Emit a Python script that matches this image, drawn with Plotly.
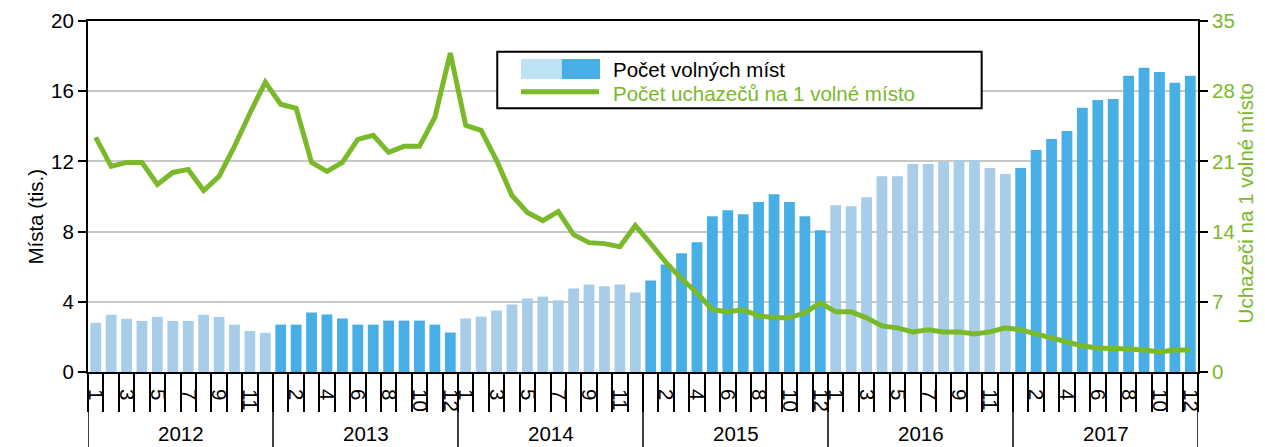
import plotly.graph_objects as go

years = [2012, 2013, 2014, 2015, 2016, 2017]
months = list(range(1, 13))

# Počet volných míst (tis.) by month 2012-01 .. 2017-12
vacancies = [
    2.80, 3.26, 3.03, 2.91, 3.14, 2.91, 2.91, 3.26, 3.14, 2.70, 2.34, 2.23,
    2.70, 2.70, 3.39, 3.28, 3.05, 2.70, 2.70, 2.93, 2.93, 2.93, 2.70, 2.25,
    3.05, 3.16, 3.50, 3.85, 4.19, 4.30, 4.08, 4.76, 4.99, 4.88, 4.99, 4.53,
    5.22, 6.13, 6.76, 7.39, 8.88, 9.22, 8.99, 9.68, 10.13, 9.68, 8.88, 8.08,
    9.50, 9.45, 9.96, 11.16, 11.16, 11.85, 11.85, 11.96, 12.08, 12.08, 11.62, 11.28,
    11.62, 12.65, 13.28, 13.73, 15.05, 15.50, 15.56, 16.88, 17.33, 17.10, 16.48, 16.88,
]

# Počet uchazečů na 1 volné místo
applicants_per_vacancy = [
    23.4, 20.5, 20.9, 20.9, 18.7, 19.9, 20.2, 18.1, 19.5, 22.5, 25.8, 28.9,
    26.7, 26.3, 20.9, 20.0, 20.9, 23.2, 23.6, 21.9, 22.5, 22.5, 25.4, 31.8,
    24.6, 24.1, 21.1, 17.6, 15.9, 15.1, 16.0, 13.7, 12.9, 12.8, 12.5, 14.6,
    12.8, 10.9, 9.3, 7.9, 6.2, 6.0, 6.2, 5.6, 5.4, 5.4, 5.9, 6.9,
    6.0, 6.0, 5.4, 4.6, 4.4, 4.0, 4.2, 4.0, 4.0, 3.8, 4.0, 4.4,
    4.2, 3.8, 3.4, 3.0, 2.6, 2.4, 2.4, 2.3, 2.2, 2.0, 2.2, 2.2,
]

# month tick labels shown (odd months in even years, even months in odd years)
month_ticks = [
    "1", "", "3", "", "5", "", "7", "", "9", "", "11", "",
    "", "2", "", "4", "", "6", "", "8", "", "10", "", "12",
    "1", "", "3", "", "5", "", "7", "", "9", "", "11", "",
    "", "2", "", "4", "", "6", "", "8", "", "10", "", "12",
    "1", "", "3", "", "5", "", "7", "", "9", "", "11", "",
    "", "2", "", "4", "", "6", "", "8", "", "10", "", "12",
]

LIGHT = "#A8CDE8"
DARK = "#48AEE6"
LEGEND_LIGHT = "#BEE3F6"
GREEN = "#7AB929"
FONT = "Liberation Sans"
FS = 20.5

n = len(vacancies)
xs = list(range(n))
bar_colors = [LIGHT if (years[i // 12] % 2 == 0) else DARK for i in xs]

fig = go.Figure()
fig.add_trace(go.Bar(
    x=xs, y=vacancies, marker=dict(color=bar_colors, line=dict(width=0)),
    showlegend=False, yaxis="y",
))
fig.add_trace(go.Scatter(
    x=xs, y=applicants_per_vacancy, mode="lines",
    line=dict(color=GREEN, width=5), showlegend=False, yaxis="y2",
))

tickvals = [i for i in xs if month_ticks[i] != ""]
ticktext = [month_ticks[i] for i in tickvals]

fig.update_layout(
    width=1265, height=447,
    margin=dict(l=88, r=67, t=21, b=75),
    plot_bgcolor="white", paper_bgcolor="white",
    bargap=0.3,
    font=dict(family=FONT, size=FS, color="black"),
    xaxis=dict(
        range=[-0.5, n - 0.5], showgrid=False, zeroline=False, automargin=False,
        showline=True, linecolor="black", linewidth=2, mirror=True,
        tickmode="array", tickvals=tickvals, ticktext=ticktext,
        tickangle=90, ticks="", ticklabelstandoff=11,
        tickfont=dict(size=FS, color="black"),
        minor=dict(tickmode="linear", tick0=-0.5, dtick=1, ticks="outside",
                   ticklen=38, tickwidth=1.5, tickcolor="black", showgrid=False),
    ),
    yaxis=dict(
        range=[0, 20], dtick=4, tick0=0, showgrid=True, gridcolor="#C8C8C8", gridwidth=1.5,
        zeroline=False, showline=True, linecolor="black", linewidth=2, automargin=False,
        ticks="outside", ticklen=8, tickwidth=1.5, tickcolor="black",
        tickfont=dict(size=FS, color="black"),
    ),
    yaxis2=dict(
        range=[0, 35], dtick=7, tick0=0, overlaying="y", side="right",
        showgrid=False, zeroline=False, showline=True, linecolor="black", linewidth=2,
        automargin=False,
        ticks="outside", ticklen=8, tickwidth=1.5, tickcolor="black",
        tickfont=dict(size=FS, color=GREEN),
    ),
)

shapes = []
# year dividers
for k in range(len(years) + 1):
    xv = k * 12 - 0.5
    shapes.append(dict(type="line", xref="x", yref="paper", x0=xv, x1=xv,
                       y0=0, y1=-0.215, line=dict(color="black", width=1.5)))
annotations = []
for k, yr in enumerate(years):
    annotations.append(dict(x=k * 12 + 5.5, y=-0.174, xref="x", yref="paper",
                            text=str(yr), showarrow=False, xanchor="center", yanchor="middle",
                            font=dict(size=FS, color="black")))

# axis titles
annotations.append(dict(x=-0.0595, y=0.444, xref="paper", yref="paper", text="Místa (tis.)",
                        textangle=-90, showarrow=False, font=dict(size=FS, color="black")))
annotations.append(dict(x=1.055, y=0.479, xref="paper", yref="paper",
                        text="Uchazeči na 1 volné místo",
                        textangle=-90, showarrow=False, font=dict(size=FS, color=GREEN)))

# legend (manual)
shapes.append(dict(type="rect", xref="paper", yref="paper", x0=0.3687, x1=0.8051,
                   y0=0.7513, y1=0.9125, line=dict(color="black", width=2), fillcolor="white"))
shapes.append(dict(type="rect", xref="paper", yref="paper", x0=0.3901, x1=0.4268,
                   y0=0.8348, y1=0.8917, line=dict(width=0), fillcolor=LEGEND_LIGHT))
shapes.append(dict(type="rect", xref="paper", yref="paper", x0=0.4268, x1=0.4613,
                   y0=0.8348, y1=0.8917, line=dict(width=0), fillcolor=DARK))
shapes.append(dict(type="line", xref="paper", yref="paper", x0=0.3901, x1=0.4604,
                   y0=0.7986, y1=0.7986, line=dict(color=GREEN, width=5)))
annotations.append(dict(x=0.4709, y=0.8604, xref="paper", yref="paper", text="Počet volných míst",
                        showarrow=False, xanchor="left", yanchor="middle",
                        font=dict(size=FS, color="black")))
annotations.append(dict(x=0.4709, y=0.794, xref="paper", yref="paper",
                        text="Počet uchazečů na 1 volné místo",
                        showarrow=False, xanchor="left", yanchor="middle",
                        font=dict(size=FS, color=GREEN)))

fig.update_layout(shapes=shapes, annotations=annotations)
fig.write_html("out.html", config={"displayModeBar": False},
               post_script="document.body.style.margin='0';document.body.style.overflow='hidden';")
